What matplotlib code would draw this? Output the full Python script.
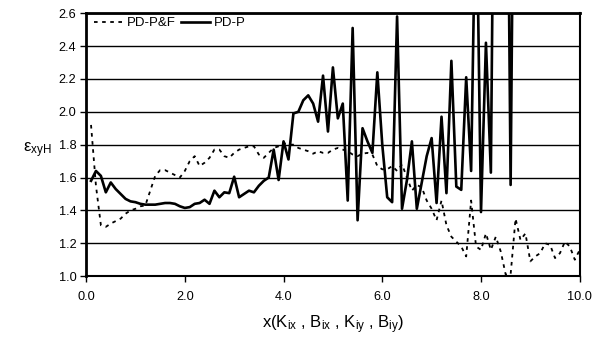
import numpy as np
import matplotlib
matplotlib.use("Agg")
import matplotlib.pyplot as plt

plt.rcParams['font.family'] = ['Liberation Sans', 'DejaVu Sans']
plt.rcParams['mathtext.default'] = 'regular'

# x positions of the samples (step 0.1)
x_pf = np.round(np.arange(1, 101) * 0.1, 1)
x_p = np.round(np.arange(1, 88) * 0.1, 1)

# PD-P&F (dotted)
pd_pf = [1.92, 1.55, 1.31, 1.30, 1.32, 1.335, 1.35, 1.38, 1.40, 1.41,
         1.425, 1.43, 1.52, 1.61, 1.645, 1.645, 1.63, 1.615, 1.60, 1.64,
         1.70, 1.73, 1.67, 1.69, 1.72, 1.77, 1.77, 1.73, 1.72, 1.75,
         1.77, 1.78, 1.79, 1.79, 1.74, 1.72, 1.75, 1.78, 1.79, 1.81,
         1.80, 1.80, 1.78, 1.77, 1.76, 1.745, 1.76, 1.75, 1.75, 1.77,
         1.78, 1.77, 1.76, 1.74, 1.73, 1.745, 1.75, 1.74, 1.67, 1.65,
         1.65, 1.67, 1.64, 1.68, 1.60, 1.52, 1.555, 1.54, 1.46, 1.41,
         1.34, 1.46, 1.31, 1.24, 1.21, 1.18, 1.12, 1.46, 1.18, 1.16,
         1.26, 1.16, 1.24, 1.15, 1.01, 1.01, 1.35, 1.22, 1.26, 1.09,
         1.12, 1.14, 1.20, 1.19, 1.11, 1.14, 1.21, 1.18, 1.10, 1.16]

# PD-P (solid), values above 2.6 run off the top of the plot
pd_p = [1.58, 1.64, 1.61, 1.51, 1.57, 1.53, 1.50, 1.47, 1.455, 1.45,
        1.44, 1.435, 1.435, 1.435, 1.44, 1.445, 1.445, 1.44, 1.425, 1.415,
        1.42, 1.44, 1.445, 1.465, 1.44, 1.52, 1.48, 1.51, 1.505, 1.605,
        1.48, 1.50, 1.52, 1.51, 1.55, 1.58, 1.60, 1.77, 1.585, 1.82,
        1.71, 1.99, 2.00, 2.07, 2.10, 2.05, 1.94, 2.22, 1.88, 2.27,
        1.96, 2.05, 1.46, 2.51, 1.34, 1.90, 1.82, 1.75, 2.24, 1.80,
        1.48, 1.45, 2.58, 1.41, 1.585, 1.82, 1.41, 1.57, 1.73, 1.84,
        1.445, 1.97, 1.505, 2.31, 1.545, 1.525, 2.21, 1.64, 3.5, 1.39,
        2.42, 1.63, 5.0, 5.0, 5.0, 1.555, 5.0]

fig = plt.figure(figsize=(6.02, 3.38), dpi=100)
ax = fig.add_axes([0.143, 0.183, 0.82, 0.778])

ax.plot(x_pf, pd_pf, color='black', lw=1.3, linestyle=(0, (2, 2.5)), label='PD-P&F')
ax.plot(x_p, pd_p, color='black', lw=1.9, label='PD-P')

ax.set_xlim(0, 10)
ax.set_ylim(1.0, 2.6)
ax.set_xticks(np.arange(0, 10.1, 2))
ax.set_yticks(np.arange(1.0, 2.61, 0.2))
ax.xaxis.set_major_formatter(matplotlib.ticker.FormatStrFormatter('%.1f'))
ax.yaxis.set_major_formatter(matplotlib.ticker.FormatStrFormatter('%.1f'))
ax.grid(axis='y', color='black', lw=1.0)
ax.set_axisbelow(True)
ax.tick_params(direction='out', length=4, width=1, labelsize=9.2, colors='black')
ax.tick_params(axis='x', pad=7)
ax.tick_params(axis='y', pad=3)

ax.spines['left'].set_linewidth(2)
ax.spines['top'].set_linewidth(2)
ax.spines['right'].set_linewidth(1.5)
ax.spines['bottom'].set_linewidth(1.5)

ax.set_xlabel('x(K$_{ix}$ , B$_{ix}$ , K$_{iy}$ , B$_{iy}$)', fontsize=12, labelpad=7)
fig.text(0.038, 0.556, r'$\mathregular{ε_{xyH}}$', fontsize=12, ha='left', va='center')

ax.legend(loc='upper left', ncol=2, frameon=False, fontsize=9.5,
          handlelength=2.2, handletextpad=0.3, columnspacing=0.4,
          borderaxespad=0.2, bbox_to_anchor=(0.0, 1.015))

fig.savefig('out.png', dpi=100)
